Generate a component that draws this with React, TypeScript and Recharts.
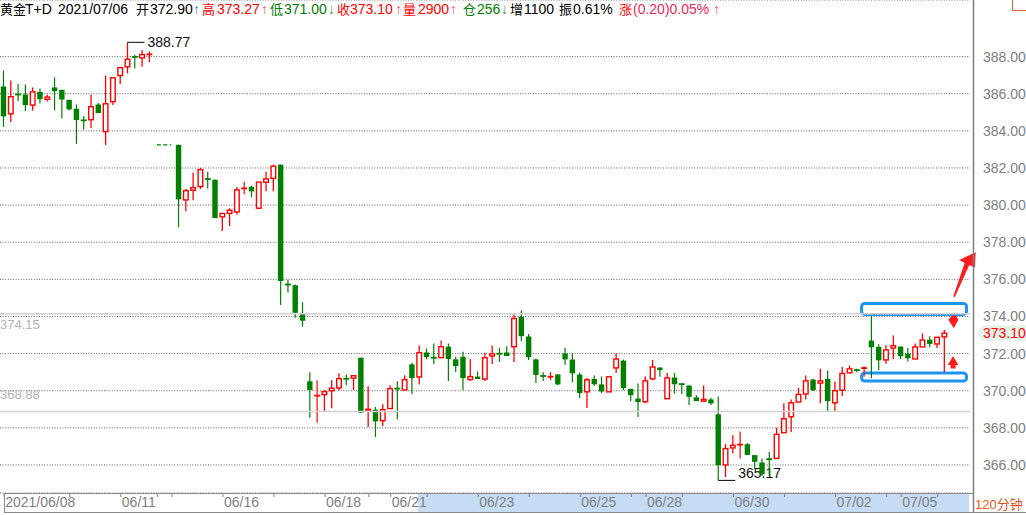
import React from 'react';
import {
  ComposedChart,
  Bar,
  XAxis,
  YAxis,
  CartesianGrid,
  ReferenceLine,
  ReferenceArea,
  ReferenceDot,
} from 'recharts';

// 120-minute candles, one slot per bar (null = empty slot: holiday gap / right padding)
const opens = [
  386.39, 384.92, 385.98, 385.96, 385.39, 386.1, 385.7, 386.34, 386.21, 385.67,
  385.19, 384.58, 384.6, 385.42, 383.96, 385.57, 386.98, 387.45, 388.0, 387.93,
  388.1, null, null, null, 383.25, 380.28, 380.8, 381.0, 381.42, 381.37,
  379.37, 379.56, 379.63, 380.88, 380.99, 379.83, 381.23, 381.44, 382.18, 375.74,
  375.68, 374.13, 370.51, 369.72, 369.79, 370.0, 370.15, 370.66, 370.68, 371.78,
  368.91, 368.98, 368.39, 369.04, 370.13, 370.04, 371.42, 370.74, 372.06, 371.79,
  371.78, 372.37, 371.69, 371.83, 370.6, 370.76, 370.63, 371.87, 372.0, 372.06,
  372.37, 373.98, 372.92, 371.69, 370.8, 370.74, 370.88, 372.01, 371.68, 370.87,
  369.94, 370.64, 370.34, 369.94, 371.23, 371.62, 370.1, 369.58, 369.41, 370.64,
  371.25, 369.57, 370.71, 370.37, 370.28, 369.64, 369.44, 369.53, 368.73, 366.0,
  366.92, 367.08, 367.12, 366.53, 366.13, 366.32, 366.35, 367.74, 368.6, 369.39,
  369.82, 370.6, 370.41, 370.64, 369.35, 370.03, 370.96, 371.12, 371.2, 372.7,
  372.36, 371.66, 372.3, 372.38, 372.0, 371.71, 372.36, 372.75, 372.52, 372.9,
  null, null, null,
];

const highs = [
  387.25, 386.71, 386.53, 386.5, 386.34, 386.28, 385.94, 386.87, 386.21, 385.67,
  385.42, 384.8, 385.94, 385.5, 386.98, 386.86, 387.41, 388.77, 388.1, 388.36,
  388.27, null, null, null, 383.25, 380.87, 381.75, 382.0, 381.8, 381.37,
  379.55, 379.83, 380.98, 381.26, 381.05, 381.24, 381.8, 382.18, 382.18, 375.98,
  375.72, 374.77, 370.99, 370.56, 370.02, 370.56, 370.94, 370.88, 370.81, 371.78,
  370.24, 369.13, 369.27, 370.29, 370.51, 370.83, 371.51, 372.44, 372.28, 372.55,
  372.71, 372.55, 371.83, 372.1, 371.69, 371.04, 372.05, 372.44, 372.32, 372.39,
  374.11, 374.32, 373.05, 371.74, 371.0, 371.0, 370.88, 372.32, 372.0, 370.98,
  370.69, 370.82, 370.77, 370.75, 372.0, 371.68, 370.1, 370.39, 370.77, 371.66,
  371.25, 370.96, 370.96, 370.39, 370.28, 369.75, 370.28, 369.62, 369.69, 367.12,
  367.6, 367.8, 367.17, 366.53, 366.35, 366.7, 368.01, 369.32, 369.53, 370.16,
  370.82, 370.64, 371.18, 371.09, 370.5, 371.28, 371.36, 371.18, 371.32, 374.04,
  372.5, 372.45, 372.98, 372.38, 372.3, 372.54, 373.09, 372.93, 372.88, 373.27,
  null, null, null,
];

const lows = [
  384.21, 384.48, 385.6, 385.07, 385.1, 385.48, 385.58, 385.1, 384.67, 385.1,
  383.3, 384.08, 384.15, 384.96, 383.24, 385.39, 386.52, 387.1, 387.37, 387.45,
  387.7, null, null, null, 378.81, 379.67, 380.26, 380.87, 380.89, 379.3,
  378.6, 378.87, 379.5, 380.58, 380.42, 379.83, 380.74, 380.74, 374.62, 375.29,
  373.93, 373.45, 368.55, 368.27, 368.91, 369.05, 370.02, 370.29, 370.04, 368.78,
  368.05, 367.51, 368.1, 369.04, 368.46, 370.04, 369.82, 370.34, 371.69, 371.44,
  371.78, 370.52, 371.01, 370.04, 370.54, 370.63, 370.52, 371.44, 371.55, 371.87,
  371.55, 372.67, 371.65, 370.42, 370.52, 370.58, 370.29, 371.38, 370.46, 369.6,
  369.07, 370.25, 369.87, 369.94, 370.96, 370.03, 369.44, 368.58, 369.33, 370.57,
  370.75, 369.57, 369.84, 369.82, 369.23, 369.44, 369.44, 369.23, 365.17, 365.35,
  366.63, 366.35, 366.54, 365.77, 365.42, 365.42, 366.35, 367.74, 367.78, 369.39,
  369.53, 369.99, 369.32, 368.91, 368.91, 369.71, 370.96, 371.0, 370.75, 370.67,
  371.1, 371.45, 371.71, 371.71, 371.57, 371.71, 372.36, 372.34, 372.3, 371.0,
  null, null, null,
];

const closes = [
  384.78, 385.84, 385.94, 385.39, 386.1, 385.71, 385.82, 386.14, 385.69, 385.16,
  384.58, 384.55, 385.3, 384.96, 385.46, 386.86, 387.41, 387.86, 387.97, 388.11,
  388.14, null, null, null, 380.31, 380.78, 380.94, 381.91, 381.39, 379.3,
  379.55, 379.72, 380.82, 380.92, 380.74, 381.24, 381.41, 382.1, 375.91, 375.7,
  374.2, 373.77, 370.04, 369.75, 369.95, 370.13, 370.65, 370.63, 370.81, 368.82,
  369.0, 368.35, 368.98, 370.11, 370.1, 370.6, 370.68, 372.05, 371.81, 371.76,
  372.37, 371.71, 371.33, 370.68, 370.76, 370.63, 371.78, 371.99, 371.99, 371.87,
  373.89, 372.94, 371.81, 370.85, 370.79, 370.77, 370.34, 371.69, 370.94, 369.87,
  370.59, 370.35, 369.96, 370.75, 371.71, 370.14, 369.76, 369.39, 370.53, 371.28,
  371.11, 370.69, 370.35, 370.34, 369.67, 369.44, 369.53, 369.32, 365.99, 366.88,
  367.06, 367.11, 366.54, 366.17, 365.5, 366.3, 367.65, 368.49, 369.35, 369.8,
  370.53, 370.03, 370.53, 369.44, 370.0, 370.93, 371.18, 371.1, 371.24, 372.34,
  371.64, 372.2, 372.43, 371.86, 371.75, 372.36, 372.73, 372.52, 372.88, 373.1,
  null, null, null,
];

// day boundary ticks on the time strip, and the ones that carry a date
const dayTicks = [0, 9, 16, 21, 23, 30, 37, 44, 50, 53, 58, 65, 72, 79, 86, 88, 93, 100, 107, 114, 121, 123, 128];
const labelSlots = [0, 16, 30, 44, 53, 65, 79, 88, 100, 114, 123];
const labelTexts = ['2021/06/08', '06/11', '06/16', '06/18', '06/21', '06/23', '06/25', '06/28', '06/30', '07/02', '07/05'];

const priceTicks = [366, 368, 370, 372, 374, 376, 378, 380, 382, 384, 386, 388];
const levelLines = [374.15, 368.88];

// hand-drawn marks on the chart (blue boxes, red arrows)
const boxRanges = [
  { x1: 118, x2: 132, y1: 374.11, y2: 374.7 },
  { x1: 118, x2: 132, y1: 370.52, y2: 370.95 },
];

const Y_MIN = 364.49;
const Y_MAX = 391.05;

const RED = '#ff0000';
const GREEN = '#008000';
const GRAY = '#808080';
const BLUE = '#1c95f0';
const ARROW = '#ff1c1c';
const LATIN = '"Liberation Sans", Arial, sans-serif';
const CJK = '"Noto Sans CJK SC", "Noto Sans", sans-serif';

const rows = opens.map((o, i) => ({ i, o, h: highs[i], l: lows[i], c: closes[i] }));

const valid = (v: number | null) => v != null;
const maxHigh = Math.max(...(highs.filter(valid) as number[]));
const minLow = Math.min(...(lows.filter(valid) as number[]));
const maxIdx = highs.indexOf(maxHigh);
const minIdx = lows.indexOf(minLow);
const last = 129;

function Candle(props: any) {
  const { x, y, width, height, payload } = props;
  if (!payload || payload.o == null) return null;
  const { o, h, l, c, i } = payload;
  const k = height / (h - l);
  const at = (v: number) => y + (h - v) * k;
  const cx = x + width / 2;
  const up = c >= o;
  const col = up ? RED : GREEN;
  const yTop = at(Math.max(o, c));
  const yBot = at(Math.min(o, c));
  const bodyH = yBot - yTop;
  const parts: React.ReactNode[] = [];

  if (bodyH < 1.6) {
    parts.push(<line key="w" x1={cx} x2={cx} y1={y} y2={y + height} stroke={col} strokeWidth={1.2} />);
    parts.push(<line key="b" x1={cx - 3} x2={cx + 3} y1={(yTop + yBot) / 2} y2={(yTop + yBot) / 2} stroke={col} strokeWidth={1.8} />);
  } else if (up) {
    parts.push(<line key="w1" x1={cx} x2={cx} y1={y} y2={yTop} stroke={col} strokeWidth={1.3} />);
    parts.push(<line key="w2" x1={cx} x2={cx} y1={yBot} y2={y + height} stroke={col} strokeWidth={1.3} />);
    parts.push(<rect key="b" x={cx - 2.3} y={yTop} width={4.6} height={bodyH} fill="#fff" stroke={col} strokeWidth={1.4} />);
  } else {
    parts.push(<line key="w" x1={cx} x2={cx} y1={y} y2={y + height} stroke={col} strokeWidth={1.2} />);
    parts.push(<rect key="b" x={cx - 2.7} y={yTop} width={5.4} height={bodyH} fill={col} />);
  }

  if (i === maxIdx) {
    parts.push(<line key="hl" x1={cx} x2={cx + 17} y1={y} y2={y} stroke="#000" strokeWidth={1} />);
    parts.push(
      <text key="ht" x={cx + 20} y={y + 5} fontSize={14} fontFamily={LATIN} fill="#111">
        {h.toFixed(2)}
      </text>
    );
  }
  if (i === minIdx) {
    const yb = y + height;
    parts.push(<line key="ll" x1={cx} x2={cx + 17} y1={yb} y2={yb} stroke="#000" strokeWidth={1} />);
    parts.push(
      <text key="lt" x={cx + 20} y={yb - 2} fontSize={14} fontFamily={LATIN} fill="#111">
        {l.toFixed(2)}
      </text>
    );
  }
  return <g>{parts}</g>;
}

function DayTick(props: any) {
  const { x, y, payload } = props;
  const k = labelSlots.indexOf(payload.value);
  return (
    <g>
      <line x1={x + 0.5} x2={x + 0.5} y1={y} y2={y + 4} stroke={GRAY} strokeWidth={1} />
      {k >= 0 && (
        <text x={x + 1.5} y={y + 14} fontSize={14} fontFamily={LATIN} fill={GRAY}>
          {labelTexts[k]}
        </text>
      )}
    </g>
  );
}

function PriceTick(props: any) {
  const { x, y, payload } = props;
  return (
    <text x={x + 13} y={y + 5} fontSize={14} fontFamily={LATIN} fill={GRAY}>
      {Number(payload.value).toFixed(2)}
    </text>
  );
}

const levelLabel = (text: string, dy: number) => (p: any) => {
  const vb = p.viewBox || {};
  return (
    <text x={vb.x} y={vb.y + dy} fontSize={13} fontFamily={LATIN} fill="#b4b4b4">
      {text}
    </text>
  );
};

const lastTag = (p: any) => {
  const vb = p.viewBox || {};
  const x0 = vb.x + vb.width + 6;
  const yy = vb.y;
  return (
    <g>
      <polygon
        points={`${x0},${yy} ${x0 + 7},${yy - 8} ${x0 + 60},${yy - 8} ${x0 + 60},${yy + 8} ${x0 + 7},${yy + 8}`}
        fill="#e9f3ea"
      />
      <text x={x0 + 7} y={yy + 5} fontSize={14} fontFamily={LATIN} fill={RED}>
        {closes[last]!.toFixed(2)}
      </text>
    </g>
  );
};

function BoxShape(props: any) {
  const { x, y, width, height } = props;
  return <rect x={x + 1} y={y} width={width - 4.5} height={height} rx={3} ry={3} fill="none" stroke={BLUE} strokeWidth={3} />;
}

const toPoints = (tx: number, ty: number, pts: number[][]) =>
  pts.map(([a, b]) => `${tx + a},${ty + b}`).join(' ');

function BigArrow(props: any) {
  const pts = [
    [0, 0], [11.4, -33.7], [6, -36.7], [22.4, -44.4], [21.7, -29], [16, -31.7], [1.6, 0.3],
  ];
  return <polygon points={toPoints(props.cx + 1.5, props.cy, pts)} fill={ARROW} />;
}

function DownArrow(props: any) {
  const pts = [[0, 0], [4.6, -8.3], [2.2, -12.6], [-1.8, -12.6], [-5.4, -8.3]];
  return <polygon points={toPoints(props.cx + 2, props.cy, pts)} fill={ARROW} />;
}

function UpArrow(props: any) {
  const pts = [[0, 0], [5.3, 9], [2.5, 9], [2.5, 12.5], [-2.5, 12.5], [-2.5, 9], [-5.3, 9]];
  return <polygon points={toPoints(props.cx + 1.3, props.cy, pts)} fill={ARROW} />;
}

const header: { t: string; x: number; c: string; cjk?: boolean }[] = [
  { t: '黄金', x: 0, c: '#000', cjk: true },
  { t: 'T+D', x: 25, c: '#000' },
  { t: '2021/07/06', x: 58, c: '#000' },
  { t: '开', x: 136, c: '#000', cjk: true },
  { t: opens[last]!.toFixed(2), x: 150, c: '#000' },
  { t: '↑', x: 193, c: '#6a7a8c' },
  { t: '高', x: 202, c: RED, cjk: true },
  { t: highs[last]!.toFixed(2), x: 217, c: RED },
  { t: '↑', x: 261, c: '#ff5050' },
  { t: '低', x: 270, c: GREEN, cjk: true },
  { t: lows[last]!.toFixed(2), x: 284, c: GREEN },
  { t: '↓', x: 328, c: '#3f9a3f' },
  { t: '收', x: 337, c: RED, cjk: true },
  { t: closes[last]!.toFixed(2), x: 350, c: RED },
  { t: '↑', x: 395, c: '#ff5050' },
  { t: '量', x: 403, c: RED, cjk: true },
  { t: '2900', x: 418, c: RED },
  { t: '↑', x: 450, c: '#ff5050' },
  { t: '仓', x: 463, c: GREEN, cjk: true },
  { t: '256', x: 477, c: GREEN },
  { t: '↓', x: 501, c: '#3f9a3f' },
  { t: '增', x: 510, c: '#000', cjk: true },
  { t: '1100', x: 524, c: '#000' },
  { t: '振', x: 559, c: '#000', cjk: true },
  { t: '0.61%', x: 573, c: '#000' },
  { t: '涨', x: 619, c: RED, cjk: true },
  { t: '(0.20)0.05%', x: 633, c: '#f02858' },
  { t: '↑', x: 713, c: '#ff5050' },
];

export default function App() {
  return (
    <div style={{ position: 'absolute', left: 0, top: 0, width: 1026, height: 515, background: '#fff', overflow: 'hidden' }}>
      {/* time strip selection band */}
      <div style={{ position: 'absolute', left: 418, top: 494, width: 551, height: 18, background: '#c6dcf4' }} />

      <div style={{ position: 'absolute', left: 0, top: 0 }}>
        <ComposedChart width={1026} height={515} data={rows} margin={{ top: 0, right: 0, bottom: 0, left: 0 }}>
          <CartesianGrid vertical={false} stroke="#606060" strokeDasharray="1 1.6" />
          <XAxis
            dataKey="i"
            type="category"
            ticks={dayTicks}
            interval={0}
            tick={<DayTick />}
            tickLine={false}
            axisLine={false}
            tickSize={0}
            tickMargin={0}
            height={22}
          />
          <YAxis
            orientation="right"
            domain={[Y_MIN, Y_MAX]}
            ticks={priceTicks}
            tick={<PriceTick />}
            tickLine={false}
            axisLine={false}
            tickSize={0}
            tickMargin={0}
            width={56}
          />
          <ReferenceLine y={levelLines[0]} stroke="#d2d2d2" strokeWidth={1.5} label={levelLabel(levelLines[0].toFixed(2), 15)} />
          <ReferenceLine y={levelLines[1]} stroke="#d2d2d2" strokeWidth={1.5} label={levelLabel(levelLines[1].toFixed(2), -13)} />
          <ReferenceLine
            segment={[{ x: 21, y: opens[24]! }, { x: 23, y: opens[24]! }]}
            stroke={GREEN}
            strokeWidth={1.2}
            strokeDasharray="4 2.5"
          />
          <Bar
            dataKey={(d: any) => (d.o == null ? null : [d.l, d.h])}
            barSize={5}
            shape={<Candle />}
            isAnimationActive={false}
          />
          {boxRanges.map((b, k) => (
            <ReferenceArea key={k} x1={b.x1} x2={b.x2} y1={b.y1} y2={b.y2} ifOverflow="visible" shape={<BoxShape />} />
          ))}
          <ReferenceLine y={closes[last]!} stroke="none" strokeOpacity={0} label={lastTag} />
          <ReferenceDot x={130} y={375.07} ifOverflow="visible" shape={<BigArrow />} />
          <ReferenceDot x={130} y={373.37} ifOverflow="visible" shape={<DownArrow />} />
          <ReferenceDot x={130} y={371.87} ifOverflow="visible" shape={<UpArrow />} />
        </ComposedChart>
      </div>

      <svg width={1026} height={515} style={{ position: 'absolute', left: 0, top: 0, pointerEvents: 'none' }}>
        {header.map((s, k) => (
          <text key={k} x={s.x} y={14} fill={s.c} fontSize={s.cjk ? 13 : 14} fontFamily={s.cjk ? CJK : LATIN}>
            {s.t}
          </text>
        ))}
        <line x1={973.5} x2={973.5} y1={0} y2={513} stroke={GRAY} strokeWidth={1.5} />
        <rect x={1012.5} y={-3} width={20} height={13.5} fill="none" stroke="#e0602a" strokeWidth={1} />
        <line x1={4} x2={973} y1={493.5} y2={493.5} stroke="#8a8a8a" strokeWidth={1} />
        <line x1={4} x2={1026} y1={512.5} y2={512.5} stroke="#8a8a8a" strokeWidth={1} />
        <line x1={4.5} x2={4.5} y1={493} y2={513} stroke="#8a8a8a" strokeWidth={1} />
        <text x={975} y={509} fill="#ea5a12">
          <tspan fontSize={13} fontFamily={LATIN}>120</tspan>
          <tspan fontSize={13} fontFamily={CJK} fill="#e0501a">分钟</tspan>
        </text>
      </svg>
    </div>
  );
}
